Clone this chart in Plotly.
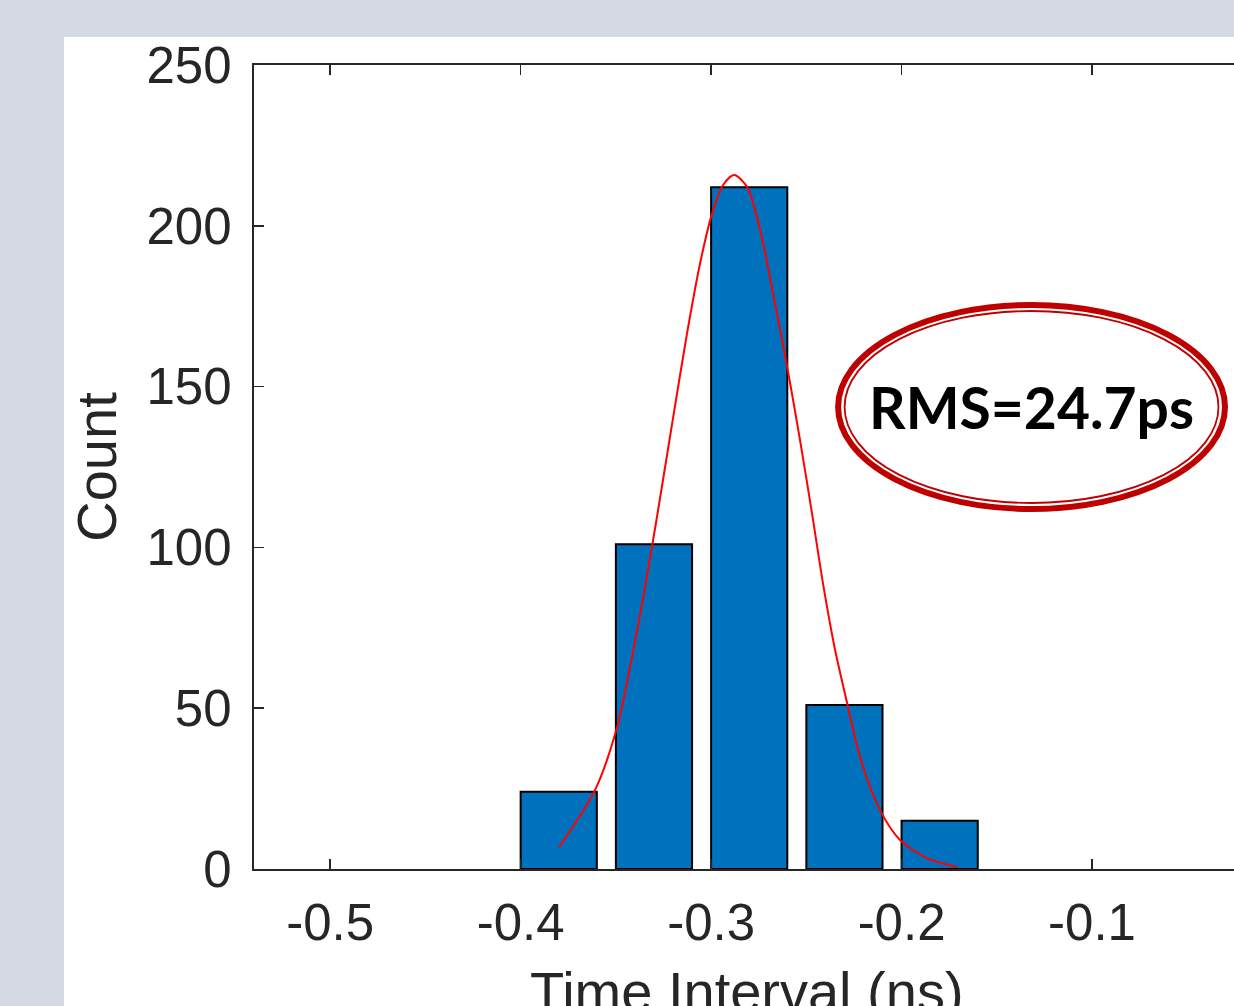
import plotly.graph_objects as go

# ---- data ----
bin_centers = [-0.38, -0.33, -0.28, -0.23, -0.18]
counts = [24, 101, 212, 51, 15]
bar_width = 0.04

fit_x = [-0.3798, -0.3609, -0.3493, -0.3425, -0.3362, -0.3310, -0.3278, -0.3199,
         -0.3126, -0.3058, -0.2995, -0.2937, -0.2879, -0.2811, -0.2743, -0.2675,
         -0.2601, -0.2533, -0.2470, -0.2412, -0.2349, -0.2281, -0.2218, -0.2113,
         -0.2008, -0.1866, -0.1709]
fit_y = [6.8, 24.6, 44.2, 63.0, 82.6, 100.4, 111.7, 140.5,
         166.7, 188.3, 203.8, 212.7, 215.8, 212.1, 198.8, 179.1,
         156.3, 133.3, 110.5, 88.6, 68.1, 50.4, 34.8, 18.3,
         9.0, 3.4, 0.6]

x_ticks = [-0.5, -0.4, -0.3, -0.2, -0.1]
x_tick_labels = ["-0.5", "-0.4", "-0.3", "-0.2", "-0.1"]
y_ticks = [0, 50, 100, 150, 200, 250]
y_tick_labels = ["0", "50", "100", "150", "200", "250"]

x_title = "Time Interval (ns)"
y_title = "Count"
annotation_text = "RMS=24.7ps"

# ---- figure ----
W, H = 1234, 1006
L, T, B, R = 254, 65, 137, 0
AX = "#262626"
TICKFONT = dict(family="Liberation Sans, Arial, sans-serif", size=51, color=AX)
TITLEFONT = dict(family="Liberation Sans, Arial, sans-serif", size=56, color=AX)

fig = go.Figure()
fig.add_trace(go.Bar(
    x=bin_centers, y=counts, width=bar_width,
    marker=dict(color="#0072BD", line=dict(color="#000000", width=2)),
    hoverinfo="skip", showlegend=False,
))
fig.add_trace(go.Scatter(
    x=fit_x, y=fit_y, mode="lines",
    line=dict(color="#FF0000", width=2, shape="spline", smoothing=0.8),
    hoverinfo="skip", showlegend=False,
))

# white panel over the grey page
pw = W - L - R
ph = H - T - B
fig.add_shape(type="rect", xref="paper", yref="paper",
              x0=(64 - L) / pw, x1=1.2, y0=-0.3, y1=(H - B - 37) / ph,
              fillcolor="white", line=dict(width=0), layer="below")

# double-line ellipse around the annotation
fig.add_shape(type="circle", xref="x", yref="y",
              x0=-0.23333, x1=-0.03018, y0=111.94, y1=175.37,
              line=dict(color="#BE0000", width=6), fillcolor="rgba(0,0,0,0)")
fig.add_shape(type="circle", xref="x", yref="y",
              x0=-0.22992, x1=-0.03360, y0=113.81, y1=173.51,
              line=dict(color="#BE0000", width=1.8), fillcolor="rgba(0,0,0,0)")
fig.add_annotation(x=(-0.23333 + -0.03018) / 2, y=143.6, xref="x", yref="y",
                   text="<b>" + annotation_text + "</b>", showarrow=False,
                   font=dict(family="Lato, Open Sans, sans-serif", size=57, color="#000000"))

# x-axis title as annotation (partly cut off at the bottom, as in the reference)
fig.add_annotation(x=-0.2811, xref="x", y=(H - B - 958) / ph, yref="paper",
                   xanchor="center", yanchor="top", text=x_title, showarrow=False,
                   font=TITLEFONT)

fig.update_layout(
    width=W, height=H,
    margin=dict(l=L, r=R, t=T, b=B, pad=0),
    paper_bgcolor="#D4D9E4",
    plot_bgcolor="white",
    bargap=0,
    xaxis=dict(
        range=[-0.54, -0.5 + (W - R - 330) / 1905],
        tickmode="array", tickvals=x_ticks, ticktext=x_tick_labels,
        ticks="inside", ticklen=10, tickwidth=1.5, tickcolor=AX,
        showline=True, linecolor=AX, linewidth=2.2, mirror="ticks",
        showgrid=False, zeroline=False, automargin=False,
        tickfont=TICKFONT, ticklabelstandoff=8,
        fixedrange=True,
    ),
    yaxis=dict(
        range=[0, 250],
        tickmode="array", tickvals=y_ticks, ticktext=y_tick_labels,
        ticks="inside", ticklen=10, tickwidth=1.5, tickcolor=AX,
        showline=True, linecolor=AX, linewidth=2.2,
        showgrid=False, zeroline=False, automargin=False,
        tickfont=TICKFONT, ticklabelstandoff=10,
        title=dict(text=y_title, font=TITLEFONT, standoff=12),
        fixedrange=True,
    ),
)

fig.write_html("out.html", config=dict(displayModeBar=False, staticPlot=True))
